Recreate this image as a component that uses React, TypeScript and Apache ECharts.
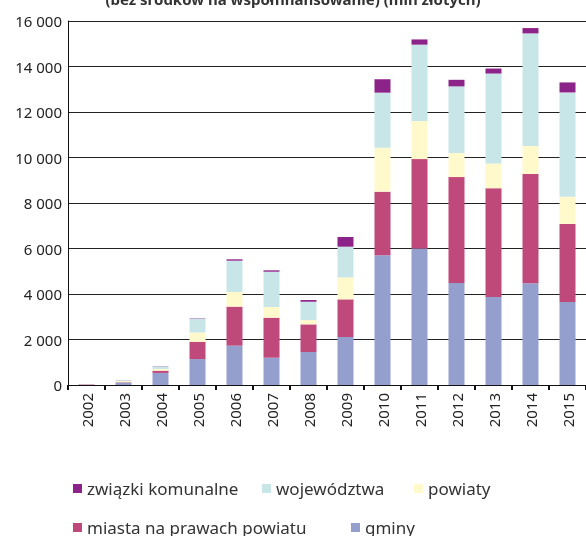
import React, { useEffect, useRef } from "react";
import * as echarts from "echarts";

const years = ["2002", "2003", "2004", "2005", "2006", "2007", "2008", "2009", "2010", "2011", "2012", "2013", "2014", "2015"];
const gminy = [10, 110, 530, 1140, 1730, 1200, 1450, 2110, 5700, 6000, 4480, 3870, 4470, 3650];
const miasta = [20, 15, 100, 760, 1715, 1760, 1215, 1655, 2800, 3930, 4660, 4780, 4805, 3430];
const powiaty = [5, 50, 75, 410, 645, 470, 190, 965, 1930, 1670, 1055, 1085, 1230, 1190];
const wojewodztwa = [5, 30, 115, 615, 1375, 1550, 805, 1350, 2420, 3360, 2930, 3955, 4950, 4590];
const zwiazki = [0, 5, 10, 15, 60, 60, 75, 425, 590, 230, 290, 220, 235, 440];

const seriesNames = ["gminy", "miasta na prawach powiatu", "powiaty", "województwa", "związki komunalne"];
const seriesData = [gminy, miasta, powiaty, wojewodztwa, zwiazki];
const colors = ["#949fce", "#c0497c", "#fff9cc", "#c8e6e8", "#8c2389"];

const FONT = "Noto Sans";

export default function App() {
  const ref = useRef<HTMLDivElement>(null);
  useEffect(() => {
    if (!ref.current) return;
    const chart = echarts.init(ref.current, null, { renderer: "svg" });
    const legendItem = (name: string, left: number, top: number) => ({
      show: true,
      data: [name],
      left,
      top,
      icon: "rect",
      itemWidth: 9,
      itemHeight: 9,
      itemGap: 0,
      itemTextGap: 14,
      padding: 0,
      textStyle: { fontFamily: FONT, fontSize: 17, color: "#333" },
    });
    chart.setOption({
      animation: false,
      title: {
        text: "(bez środków na współfinansowanie) (mln złotych)",
        left: "center",
        top: -14,
        textStyle: { fontFamily: FONT, fontSize: 15, fontWeight: "bold", color: "#333" },
      },
      legend: [
        legendItem("związki komunalne", 73, 480),
        legendItem("województwa", 262, 480),
        legendItem("powiaty", 414, 480),
        legendItem("miasta na prawach powiatu", 73, 519),
        legendItem("gminy", 351, 519),
      ],
      grid: { left: 68, right: -8, top: 21, bottom: 151, containLabel: false },
      xAxis: {
        type: "category",
        data: years,
        axisLine: { lineStyle: { color: "#111", width: 1 } },
        axisTick: { show: true, length: 5, lineStyle: { color: "#111", width: 2 } },
        axisLabel: {
          rotate: 90,
          margin: 8,
          fontFamily: FONT,
          fontSize: 15,
          color: "#222",
        },
      },
      yAxis: {
        type: "value",
        min: 0,
        max: 16000,
        interval: 2000,
        axisLine: { show: true, lineStyle: { color: "#111", width: 1 } },
        axisTick: { show: false },
        splitLine: { lineStyle: { color: "#222", width: 1 } },
        axisLabel: {
          margin: 6,
          fontFamily: FONT,
          fontSize: 15,
          color: "#222",
          formatter: (v: number) => String(v).replace(/\B(?=(\d{3})+(?!\d))/g, " "),
        },
      },
      series: seriesNames.map((name, i) => ({
        name,
        type: "bar",
        stack: "total",
        barWidth: 16,
        data: seriesData[i],
        itemStyle: { color: colors[i] },
      })),
    });
    return () => chart.dispose();
  }, []);
  return <div ref={ref} style={{ position: "fixed", left: 0, top: 0, width: 586, height: 536 }} />;
}
